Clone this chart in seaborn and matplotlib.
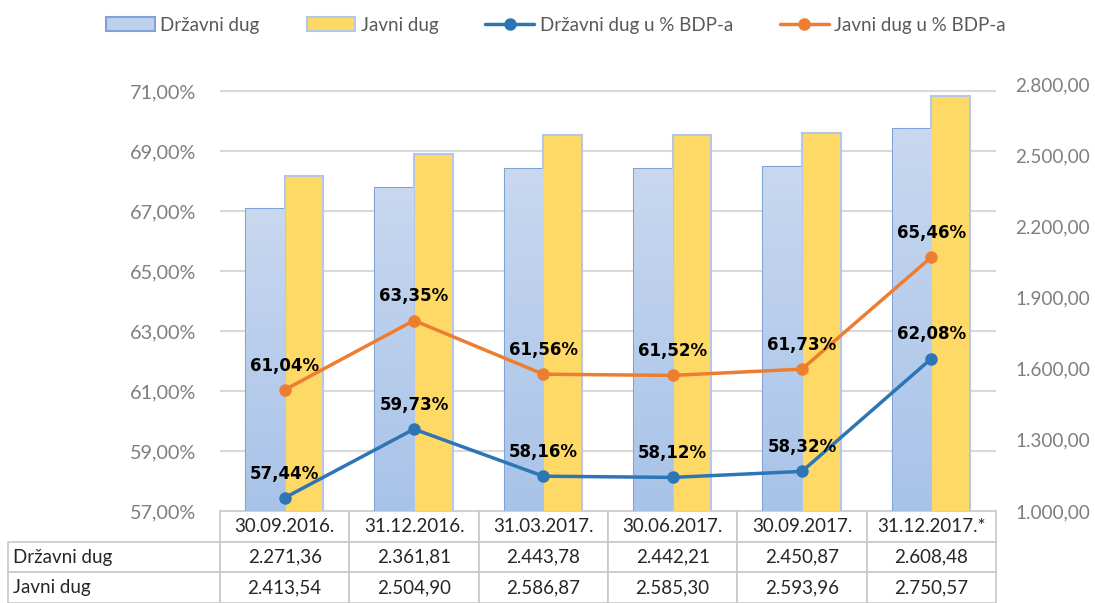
import numpy as np
import pandas as pd
import seaborn as sns
import matplotlib.pyplot as plt
from matplotlib.patches import Patch
from matplotlib.lines import Line2D
from matplotlib.colors import LinearSegmentedColormap

# data
datumi = ["30.09.2016.", "31.12.2016.", "31.03.2017.", "30.06.2017.", "30.09.2017.", "31.12.2017.*"]
drzavni_dug = [2271.36, 2361.81, 2443.78, 2442.21, 2450.87, 2608.48]
javni_dug = [2413.54, 2504.90, 2586.87, 2585.30, 2593.96, 2750.57]
drzavni_pct = [57.44, 59.73, 58.16, 58.12, 58.32, 62.08]
javni_pct = [61.04, 63.35, 61.56, 61.52, 61.73, 65.46]
drzavni_txt = ["2.271,36", "2.361,81", "2.443,78", "2.442,21", "2.450,87", "2.608,48"]
javni_txt = ["2.413,54", "2.504,90", "2.586,87", "2.585,30", "2.593,96", "2.750,57"]

sns.set_style("white")
plt.rcParams['font.family'] = ['Lato', 'DejaVu Sans']

BLUE_BAR = "#bdd0ec"
BLUE_EDGE = "#7fa3d6"
YELLOW = "#ffd966"
YELLOW_EDGE = "#b4c7e7"
BLUE_LINE = "#2e75b6"
ORANGE = "#ed7d31"
GRAY = "#7f7f7f"

W, H = 1095, 603
fig = plt.figure(figsize=(W / 100, H / 100), dpi=100)
# bar axis (right scale) is a bit taller than the percent axis, as in the original
ax = fig.add_axes([220 / W, (H - 511) / H, 776 / W, 427 / H])
ax2 = fig.add_axes([220 / W, (H - 511) / H, 776 / W, 420 / H], sharex=ax)
ax2.patch.set_visible(False)

df = pd.DataFrame({
    "datum": datumi * 2,
    "iznos": drzavni_dug + javni_dug,
    "serija": ["Državni dug"] * 6 + ["Javni dug"] * 6,
})
sns.barplot(data=df, x="datum", y="iznos", hue="serija", order=datumi,
            palette=[BLUE_BAR, YELLOW], width=0.6, ax=ax, legend=False,
            saturation=1, linewidth=1.5, zorder=2)

# edges + gradient for the blue bars
ax.set_ylim(1000, 2800)
ax.set_xlim(-0.5, 5.5)
grad = np.linspace(0, 1, 256).reshape(-1, 1)
cm = LinearSegmentedColormap.from_list("g", ["#a8c3e8", "#c8d8ef"])
for i, cont in enumerate(ax.containers):
    for p in cont.patches:
        if i == 0:
            p.set_edgecolor(BLUE_EDGE)
            x0, w, h = p.get_x(), p.get_width(), p.get_height()
            im = ax.imshow(grad, extent=[x0, x0 + w, 1000, h], origin="lower",
                           aspect="auto", cmap=cm, zorder=2.1)
            im.set_clip_path(p)
        else:
            p.set_edgecolor(YELLOW_EDGE)
ax.set_xlim(-0.5, 5.5)
ax.set_ylim(1000, 2800)

# gridlines follow the left (percent) axis, drawn behind the bars
pct_ticks = np.arange(57, 72, 2)
ax.set_yticks(1000 + (pct_ticks - 57) * 30 * 1800 / 427, minor=True)
ax.grid(which="minor", axis="y", color="#d9d9d9", linewidth=1.5, zorder=0)
ax.tick_params(which="minor", length=0)
ax.set_axisbelow(True)
ax.set_xlabel("")
ax.set_ylabel("")
ax.yaxis.tick_right()
ax.set_yticks(np.arange(1000, 2801, 300))
ax.set_yticklabels([f"{v:,.2f}".replace(",", "X").replace(".", ",").replace("X", ".")
                    for v in np.arange(1000, 2801, 300)])
ax.tick_params(axis="y", which="major", length=0, pad=14, labelsize=13.6, labelcolor=GRAY)
for s in ax.spines.values():
    s.set_visible(False)

# percent lines
xs = np.arange(len(datumi))
sns.lineplot(x=xs, y=drzavni_pct, ax=ax2, color=BLUE_LINE, linewidth=2.5,
             marker="o", markersize=9, markeredgewidth=0)
sns.lineplot(x=xs, y=javni_pct, ax=ax2, color=ORANGE, linewidth=2.5,
             marker="o", markersize=9, markeredgewidth=0)
ax2.set_ylim(57, 71)
ax2.set_xlim(-0.5, 5.5)
ax2.set_yticks(pct_ticks)
ax2.set_yticklabels([f"{v:.2f}%".replace(".", ",") for v in pct_ticks])
ax2.tick_params(axis="y", length=0, pad=17, labelsize=14.3, labelcolor=GRAY)
ax2.tick_params(axis="x", length=0, labelbottom=False)
ax2.set_ylabel("")
for s in ax2.spines.values():
    s.set_visible(False)
ax.tick_params(axis="x", length=0, labelbottom=False)

for vals in (drzavni_pct, javni_pct):
    for x, v in zip(xs, vals):
        ax2.annotate(f"{v:.2f}%".replace(".", ","), (x, v), xytext=(0, 11),
                     textcoords="offset points", ha="center", va="bottom",
                     fontsize=12, fontweight="bold", family="DejaVu Sans", color="black")

# data table below the plot (bbox covers the data cells only)
tbl = ax.table(cellText=[drzavni_txt, javni_txt], rowLabels=["Državni dug", "Javni dug"],
               colLabels=datumi, colWidths=[1 / 6] * 6,
               bbox=[0, -92 / 427, 1, 92 / 427],
               cellLoc="center", rowLoc="left")
tbl.auto_set_font_size(False)
tbl._autoColumns = []
for (r, c), cell in tbl.get_celld().items():
    cell.set_edgecolor("#c8c8c8")
    cell.set_linewidth(1.2)
    cell.get_text().set_fontsize(13.5)
    if c == -1:
        cell.set_width(212 / 776)
        cell.PAD = 0.025

# legend
handles = [
    Patch(facecolor=BLUE_BAR, edgecolor=BLUE_EDGE, linewidth=1.5, label="Državni dug"),
    Patch(facecolor=YELLOW, edgecolor=YELLOW_EDGE, linewidth=1.5, label="Javni dug"),
    Line2D([], [], color=BLUE_LINE, linewidth=2.5, marker="o", markersize=8, label="Državni dug u % BDP-a"),
    Line2D([], [], color=ORANGE, linewidth=2.5, marker="o", markersize=8, label="Javni dug u % BDP-a"),
]
leg = fig.legend(handles=handles, loc="center", bbox_to_anchor=(556 / W, 1 - 25 / H),
                 ncol=4, frameon=False, fontsize=13.5, handlelength=2.6, handletextpad=0.3,
                 columnspacing=2.5)
for t in leg.get_texts():
    t.set_color("#595959")

fig.savefig("out.png", dpi=100)
